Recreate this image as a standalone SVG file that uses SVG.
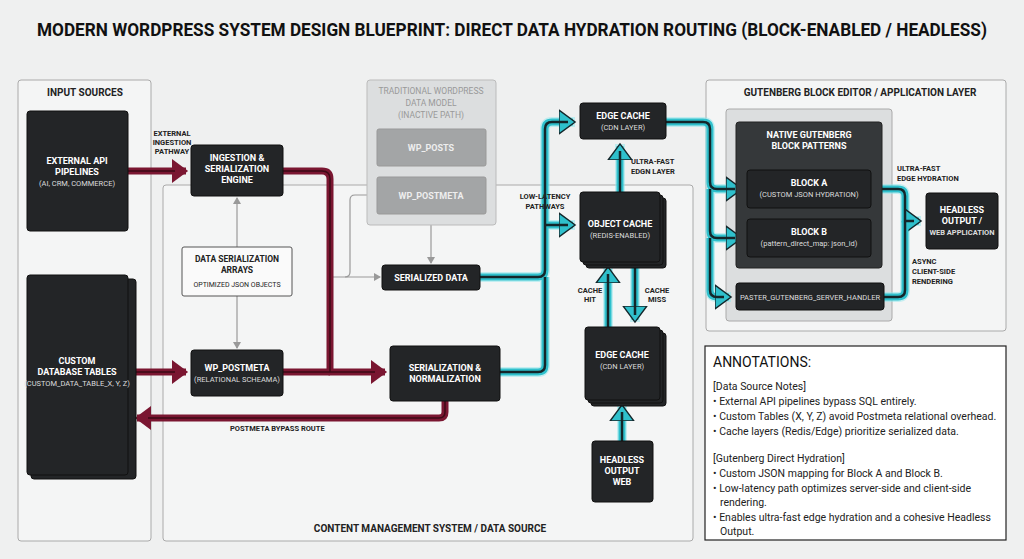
<svg xmlns="http://www.w3.org/2000/svg" width="1024" height="559" viewBox="0 0 1024 559">
<style>
text{font-family:Roboto,"Liberation Sans",sans-serif;}
.t{font-weight:bold;fill:#fff;font-size:9px;text-anchor:middle}
.s{fill:#ddd;font-size:7.5px;text-anchor:middle}
.lbl{font-weight:bold;fill:#222;font-size:7.5px}
.c{font-weight:bold;fill:#222;font-size:10px;text-anchor:middle}
.n{fill:#232527;stroke:#111;stroke-width:1;rx:3}
.grp{fill:#f4f5f5;stroke:#aaa;stroke-width:1}
.m1{fill:none;stroke:#7a1631;stroke-width:7;stroke-linejoin:round}
.m2{fill:none;stroke:#3d0a16;stroke-width:1.5;stroke-linejoin:round}
.c0{fill:none;stroke:#8ee8ee;stroke-width:10;stroke-linejoin:round;opacity:.5}
.c1{fill:none;stroke:#2fc0cc;stroke-width:7;stroke-linejoin:round}
.c2{fill:none;stroke:#14262a;stroke-width:2.5;stroke-linejoin:round}
.g{fill:none;stroke:#999;stroke-width:1.2}
.a{font-size:10.5px;fill:#222}
</style>
<defs>
<marker id="ma" markerWidth="4" markerHeight="4" refX="2" refY="2" orient="auto" markerUnits="strokeWidth"><path d="M0,0.3 L2.3,2 L0,3.7z" fill="#7a1631"/></marker>
<marker id="ca" markerWidth="4" markerHeight="4" refX="2" refY="2" orient="auto" markerUnits="strokeWidth"><path d="M0,0.3 L2.3,2 L0,3.7z" fill="#2fc0cc" stroke="#14262a" stroke-width="0.2"/></marker>
<marker id="ga" markerWidth="8" markerHeight="8" refX="6" refY="4" orient="auto" markerUnits="userSpaceOnUse"><path d="M0,0 L7,4 L0,8z" fill="#999"/></marker>
</defs>
<rect width="1024" height="559" fill="#eff0f0"/>
<text x="512" y="36" text-anchor="middle" font-weight="bold" font-size="18" fill="#111" textLength="950" lengthAdjust="spacingAndGlyphs">MODERN WORDPRESS SYSTEM DESIGN BLUEPRINT: DIRECT DATA HYDRATION ROUTING (BLOCK-ENABLED / HEADLESS)</text>

<g id="containers">
<rect class="grp" x="18" y="80" width="133" height="461" rx="3"/>
<text class="c" x="85" y="96">INPUT SOURCES</text>
<rect class="grp" x="163" y="185" width="530" height="356" rx="3"/>
<text class="c" x="430" y="532" font-size="11">CONTENT MANAGEMENT SYSTEM / DATA SOURCE</text>
<rect class="grp" x="706" y="80" width="300" height="251" rx="3"/>
<text class="c" x="860" y="96">GUTENBERG BLOCK EDITOR / APPLICATION LAYER</text>
<rect x="726" y="109" width="166" height="212" rx="3" fill="#dcdedf" stroke="#aaa"/>
</g>

<g id="connectors">
<path class="g" d="M237,247 V198" marker-end="url(#ga)"/>
<path class="g" d="M237,296 V348" marker-end="url(#ga)"/>
<path class="g" d="M431,225 V263" marker-end="url(#ga)"/>
<path class="g" d="M330,277 H380" marker-end="url(#ga)"/>
<path class="g" d="M367,195 H355 Q350,195 350,200 V272 Q350,277 345,277"/>
<path class="m1" d="M128,171 H186" marker-end="url(#ma)"/>
<path class="m1" d="M283,171 H322 Q330,171 330,179 V372 H385" marker-end="url(#ma)"/>
<path class="m1" d="M128,372 H186" marker-end="url(#ma)"/>
<path class="m1" d="M283,372 H330"/>
<path class="m1" d="M445,401 V412 Q445,418 439,418 H137" marker-end="url(#ma)"/>
<path class="m2" d="M283,171 H322 Q330,171 330,179 V372 H375 M128,171 H175 M128,372 H175 M283,372 H330 M445,401 V412 Q445,418 439,418 H148"/>
<g>
<path class="c0" d="M480,277 H538 Q545,277 545,270 V129 Q545,122 552,122 H575 M545,225 H575 M500,372 H538 Q545,372 545,365 V277 M620,192 V144 M666,122 H703 Q710,122 710,129 V182 Q710,189 717,189 H742 M710,189 V231 Q710,238 717,238 H742 M710,238 V290 Q710,297 717,297 H731 M608,327 V267 M635,262 V322 M622,441 V405 M871,189 H898 Q905,189 905,196 V221 H921 M884,297 H898 Q905,297 905,290 V221"/>
<path class="c1" d="M480,277 H538 Q545,277 545,270 V129 Q545,122 552,122 H573" marker-end="url(#ca)"/>
<path class="c1" d="M545,225 H573" marker-end="url(#ca)"/>
<path class="c1" d="M500,372 H538 Q545,372 545,365 V277"/>
<path class="c1" d="M620,192 V146" marker-end="url(#ca)"/>
<path class="c1" d="M666,122 H703 Q710,122 710,129 V182 Q710,189 717,189 H740" marker-end="url(#ca)"/>
<path class="c1" d="M710,189 V231 Q710,238 717,238 H740" marker-end="url(#ca)"/>
<path class="c1" d="M710,238 V290 Q710,297 717,297 H729" marker-end="url(#ca)"/>
<path class="c1" d="M608,327 V269" marker-end="url(#ca)"/>
<path class="c1" d="M635,262 V320" marker-end="url(#ca)"/>
<path class="c1" d="M622,441 V407" marker-end="url(#ca)"/>
<path class="c1" d="M871,189 H898 Q905,189 905,196 V221 H919" marker-end="url(#ca)"/>
<path class="c1" d="M884,297 H898 Q905,297 905,290 V221"/>
<path class="c2" d="M480,277 H538 Q545,277 545,270 V129 Q545,122 552,122 H568 M545,225 H568 M500,372 H538 Q545,372 545,365 V277 M620,192 V151 M666,122 H703 Q710,122 710,129 V182 Q710,189 717,189 H735 M710,189 V231 Q710,238 717,238 H735 M710,238 V290 Q710,297 717,297 H724 M608,327 V274 M635,262 V315 M622,441 V412 M871,189 H898 Q905,189 905,196 V221 H914 M884,297 H898 Q905,297 905,290 V221"/>
</g>
<text class="lbl" x="172" y="136" text-anchor="middle">EXTERNAL</text>
<text class="lbl" x="172" y="145" text-anchor="middle">INGESTION</text>
<text class="lbl" x="172" y="154" text-anchor="middle">PATHWAY</text>
<text class="lbl" x="545" y="199" text-anchor="middle">LOW-LATENCY</text>
<text class="lbl" x="545" y="209" text-anchor="middle">PATHWAYS</text>
<text class="lbl" x="631" y="164">ULTRA-FAST</text>
<text class="lbl" x="631" y="174">EDGN LAYER</text>
<text class="lbl" x="590" y="293" text-anchor="middle">CACHE</text>
<text class="lbl" x="590" y="302" text-anchor="middle">HIT</text>
<text class="lbl" x="657" y="293" text-anchor="middle">CACHE</text>
<text class="lbl" x="657" y="302" text-anchor="middle">MISS</text>
<text class="lbl" x="897" y="171">ULTRA-FAST</text>
<text class="lbl" x="897" y="181">EDGE HYDRATION</text>
<text class="lbl" x="912" y="264">ASYNC</text>
<text class="lbl" x="912" y="274">CLIENT-SIDE</text>
<text class="lbl" x="912" y="284">RENDERING</text>
<text class="lbl" x="230" y="431">POSTMETA BYPASS ROUTE</text>
</g>

<g id="external-api"><rect class="n" x="27" y="111" width="101" height="120"/>
<text class="t" x="77" y="164">EXTERNAL API</text><text class="t" x="77" y="175">PIPELINES</text><text class="s" x="77" y="186">(AI, CRM, COMMERCE)</text></g>
<g id="custom-db"><rect class="n" x="31" y="279" width="105" height="200"/><rect class="n" x="27" y="275" width="101" height="200"/>
<text class="t" x="77" y="364">CUSTOM</text><text class="t" x="77" y="375">DATABASE TABLES</text><text class="s" x="77" y="386">(CUSTOM_DATA_TABLE_X, Y, Z)</text></g>
<g id="ingestion"><rect class="n" x="191" y="145" width="92" height="51"/>
<text class="t" x="237" y="161">INGESTION &amp;</text><text class="t" x="237" y="172">SERIALIZATION</text><text class="t" x="237" y="183">ENGINE</text></g>
<g id="arrays"><rect x="182" y="247" width="110" height="49" rx="2" fill="#fafafa" stroke="#555"/>
<text x="237" y="262" font-size="8.5" font-weight="bold" fill="#222" text-anchor="middle">DATA SERIALIZATION</text>
<text x="237" y="273" font-size="8.5" font-weight="bold" fill="#222" text-anchor="middle">ARRAYS</text>
<text x="237" y="287" font-size="7" fill="#222" text-anchor="middle">OPTIMIZED JSON OBJECTS</text></g>
<g id="wp-postmeta"><rect class="n" x="191" y="350" width="92" height="46"/>
<text class="t" x="237" y="371">WP_POSTMETA</text><text class="s" x="237" y="382">(RELATIONAL SCHEAMA)</text></g>
<g id="ser-norm"><rect class="n" x="390" y="346" width="110" height="55"/>
<text class="t" x="445" y="371">SERIALIZATION &amp;</text><text class="t" x="445" y="382">NORMALIZATION</text></g>
<g id="traditional"><rect x="367" y="80" width="129" height="145" rx="3" fill="#dcdedf" stroke="#bbb"/>
<text x="431" y="94" font-size="8.5" fill="#999" text-anchor="middle">TRADITIONAL WORDPRESS</text>
<text x="431" y="106" font-size="8.5" fill="#999" text-anchor="middle">DATA MODEL</text>
<text x="431" y="118" font-size="8.5" fill="#999" text-anchor="middle">(INACTIVE PATH)</text>
<rect x="377" y="129" width="109" height="37" rx="2" fill="#a3a5a6" stroke="#999"/>
<text x="431" y="151" font-size="9" font-weight="bold" fill="#eee" text-anchor="middle">WP_POSTS</text>
<rect x="377" y="177" width="109" height="37" rx="2" fill="#a3a5a6" stroke="#999"/>
<text x="431" y="199" font-size="9" font-weight="bold" fill="#eee" text-anchor="middle">WP_POSTMETA</text></g>
<g id="serialized-data"><rect class="n" x="382" y="265" width="98" height="25"/>
<text class="t" x="431" y="281">SERIALIZED DATA</text></g>
<g id="edge-cache-top"><rect class="n" x="580" y="103" width="86" height="36"/>
<text class="t" x="623" y="119">EDGE CACHE</text><text class="s" x="623" y="130">(CDN LAYER)</text></g>
<g id="object-cache"><rect class="n" x="586" y="198" width="80" height="70"/><rect class="n" x="583" y="195" width="80" height="70"/><rect class="n" x="580" y="192" width="80" height="70"/>
<text class="t" x="620" y="227">OBJECT CACHE</text><text class="s" x="620" y="238">(REDIS-ENABLED)</text></g>
<g id="edge-cache-bottom"><rect class="n" x="591" y="333" width="75" height="73"/><rect class="n" x="588" y="330" width="75" height="73"/><rect class="n" x="585" y="327" width="75" height="73"/>
<text class="t" x="622" y="358">EDGE CACHE</text><text class="s" x="622" y="369">(CDN LAYER)</text></g>
<g id="headless-web"><rect class="n" x="592" y="441" width="61" height="61"/>
<text class="t" x="622" y="463">HEADLESS</text><text class="t" x="622" y="474">OUTPUT</text><text class="t" x="622" y="485">WEB</text></g>
<g id="native-patterns"><rect x="736" y="122" width="146" height="146" rx="3" fill="#35383a" stroke="#222"/>
<text class="t" x="809" y="138">NATIVE GUTENBERG</text><text class="t" x="809" y="149">BLOCK PATTERNS</text></g>
<g id="block-a"><rect class="n" x="747" y="170" width="124" height="38"/>
<text class="t" x="809" y="186">BLOCK A</text><text class="s" x="809" y="197">(CUSTOM JSON HYDRATION)</text></g>
<g id="block-b"><rect class="n" x="747" y="219" width="124" height="38"/>
<text class="t" x="809" y="235">BLOCK B</text><text class="s" x="809" y="246">(pattern_direct_map: json_id)</text></g>
<g id="paster"><rect class="n" x="736" y="283" width="148" height="27"/>
<text class="s" x="810" y="300" fill="#eee">PASTER_GUTENBERG_SERVER_HANDLER</text></g>
<g id="headless-app"><rect class="n" x="926" y="193" width="72" height="56"/>
<text class="t" x="962" y="213">HEADLESS</text><text class="t" x="962" y="224">OUTPUT /</text><text class="s" x="962" y="235" font-weight="bold" fill="#fff">WEB APPLICATION</text></g>
<g id="annotations"><rect x="705" y="346" width="301" height="194" fill="#fff" stroke="#222" stroke-width="1.2"/>
<text x="713" y="367" font-size="14" fill="#111">ANNOTATIONS:</text>
<text class="a" x="713" y="390">[Data Source Notes]</text>
<text class="a" x="713" y="405">• External API pipelines bypass SQL entirely.</text>
<text class="a" x="713" y="420">• Custom Tables (X, Y, Z) avoid Postmeta relational overhead.</text>
<text class="a" x="713" y="435">• Cache layers (Redis/Edge) prioritize serialized data.</text>
<text class="a" x="713" y="462">[Gutenberg Direct Hydration]</text>
<text class="a" x="713" y="477">• Custom JSON mapping for Block A and Block B.</text>
<text class="a" x="713" y="492">• Low-latency path optimizes server-side and client-side</text>
<text class="a" x="720" y="506">rendering.</text>
<text class="a" x="713" y="521">• Enables ultra-fast edge hydration and a cohesive Headless</text>
<text class="a" x="720" y="535">Output.</text></g>
</svg>
